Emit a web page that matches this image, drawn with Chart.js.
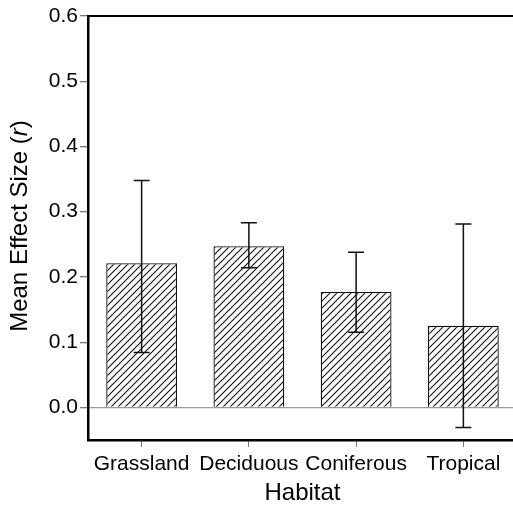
<!DOCTYPE html>
<html>
<head>
<meta charset="utf-8">
<script src="https://cdn.jsdelivr.net/npm/chart.js@4.4.0/dist/chart.umd.min.js"></script>
<style>
  html, body { margin: 0; padding: 0; background: #fff; overflow: hidden; }
  canvas { display: block; }
</style>
</head>
<body>
<canvas id="c" width="517" height="508" style="width:517px;height:508px"></canvas>
<script>
const categories = ['Grassland', 'Deciduous', 'Coniferous', 'Tropical'];
const meanEffect = [0.221, 0.247, 0.177, 0.125];
const errHigh = [0.348, 0.283, 0.238, 0.281];
const errLow = [0.084, 0.214, 0.115, -0.031];
const yTicks = [0.0, 0.1, 0.2, 0.3, 0.4, 0.5, 0.6];
const xTitle = 'Habitat';
const yTitleParts = ['Mean Effect Size (', 'r', ')'];

const FONT = "'Liberation Sans', Arial, Helvetica, sans-serif";

function makeHatch() {
  const s = 7;
  const p = document.createElement('canvas');
  p.width = s; p.height = s;
  const g = p.getContext('2d');
  g.fillStyle = '#fff';
  g.fillRect(0, 0, s, s);
  g.strokeStyle = '#111';
  g.lineWidth = 1.1;
  g.beginPath();
  g.moveTo(-1, s + 1); g.lineTo(s + 1, -1);
  g.moveTo(-1, 1); g.lineTo(1, -1);
  g.moveTo(s - 1, s + 1); g.lineTo(s + 1, s - 1);
  g.stroke();
  return g.createPattern(p, 'repeat');
}

const errorBars = {
  id: 'errorBars',
  afterDatasetsDraw(chart) {
    const ctx = chart.ctx;
    const x = chart.scales.x, y = chart.scales.y;
    ctx.save();
    ctx.strokeStyle = '#111';
    ctx.lineWidth = 1.5;
    const cap = 8;
    categories.forEach((c, i) => {
      const px = x.getPixelForValue(i);
      const yh = y.getPixelForValue(errHigh[i]);
      const yl = y.getPixelForValue(errLow[i]);
      ctx.beginPath();
      ctx.moveTo(px, yh); ctx.lineTo(px, yl);
      ctx.moveTo(px - cap, yh); ctx.lineTo(px + cap, yh);
      ctx.moveTo(px - cap, yl); ctx.lineTo(px + cap, yl);
      ctx.stroke();
    });
    ctx.restore();
  }
};

const frame = {
  id: 'frame',
  afterDraw(chart) {
    const ctx = chart.ctx;
    const a = chart.chartArea;
    ctx.save();
    ctx.strokeStyle = '#000';
    ctx.lineWidth = 2;
    ctx.beginPath();
    ctx.moveTo(a.left - 1, a.top);
    ctx.lineTo(a.right, a.top);
    ctx.stroke();
    // y title with italic r
    ctx.fillStyle = '#000';
    ctx.textBaseline = 'alphabetic';
    const fonts = ['24px ' + FONT, 'italic 24px ' + FONT, '24px ' + FONT];
    let widths = yTitleParts.map((t, i) => { ctx.font = fonts[i]; return ctx.measureText(t).width; });
    const total = widths.reduce((s, w) => s + w, 0);
    ctx.translate(27, 226);
    ctx.rotate(-Math.PI / 2);
    let cx = -total / 2;
    yTitleParts.forEach((t, i) => {
      ctx.font = fonts[i];
      ctx.textAlign = 'left';
      ctx.fillText(t, cx, 0);
      cx += widths[i];
    });
    ctx.restore();
  }
};

new Chart(document.getElementById('c'), {
  type: 'bar',
  data: {
    labels: categories,
    datasets: [{
      data: meanEffect,
      backgroundColor: makeHatch(),
      borderColor: '#111',
      borderWidth: 1.3,
      barPercentage: 0.66,
      categoryPercentage: 1.0
    }]
  },
  options: {
    responsive: false,
    animation: false,
    layout: { padding: { left: 0, right: 0, top: 16, bottom: 0 } },
    plugins: { legend: { display: false }, tooltip: { enabled: false } },
    scales: {
      x: {
        afterFit(s) { s.height = 68; },
        grid: { display: true, offset: false, drawOnChartArea: false, color: 'transparent', tickColor: '#777', tickLength: 7 },
        border: { color: '#000', width: 2.5 },
        ticks: { color: '#000', font: { family: FONT, size: 21 }, padding: 5, maxRotation: 0, minRotation: 0, autoSkip: false },
        title: { display: true, text: xTitle, color: '#000', font: { family: FONT, size: 24 }, padding: { top: 0, bottom: 0 } }
      },
      y: {
        min: -0.05,
        max: 0.6,
        afterFit(s) { s.width = 88; },
        afterBuildTicks(s) { s.ticks = yTicks.map(v => ({ value: v })); },
        grid: {
          color: (c) => (c.tick && Math.abs(c.tick.value) < 1e-9 ? '#9a9a9a' : 'transparent'),
          tickColor: '#777',
          tickLength: 8,
          lineWidth: 1.3
        },
        border: { color: '#000', width: 2.5 },
        ticks: {
          color: '#000',
          font: { family: FONT, size: 21 },
          padding: 2,
          callback: (v) => Number(v).toFixed(1)
        }
      }
    }
  },
  plugins: [errorBars, frame]
});
</script>
</body>
</html>
